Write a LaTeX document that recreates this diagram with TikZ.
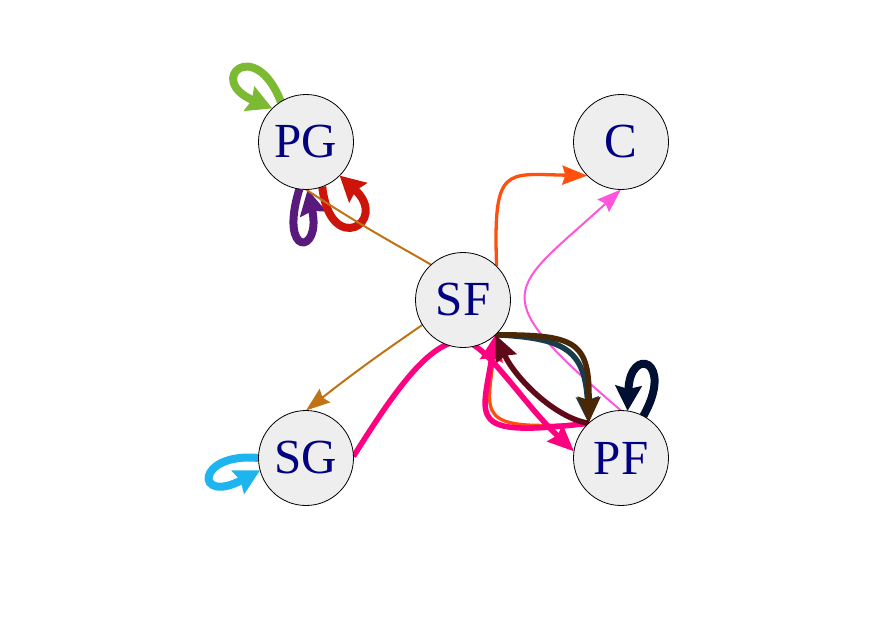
\documentclass[tikz,border=0pt]{standalone}
\usepackage{fontspec}
\setmainfont{Liberation Serif}
\usetikzlibrary{arrows.meta,backgrounds}
\definecolor{nodefill}{HTML}{EEEEEE}
\definecolor{nodetext}{HTML}{000080}
\definecolor{loopgreen}{HTML}{7CBA34}
\definecolor{looppurple}{HTML}{5A1A7D}
\definecolor{loopred}{HTML}{CD140A}
\definecolor{loopnavy}{HTML}{000F32}
\definecolor{loopblue}{HTML}{1EB4F0}
\definecolor{edgebrown}{HTML}{C07314}
\definecolor{edgeorange}{HTML}{FF500F}
\definecolor{edgepink}{HTML}{FF55DC}
\definecolor{edgemagenta}{HTML}{FF0080}
\definecolor{edgedarkbrown}{HTML}{4B2805}
\definecolor{edgeteal}{HTML}{193C4B}
\definecolor{edgemaroon}{HTML}{5F0A19}

\begin{document}
\begin{tikzpicture}[x=1pt,y=-1pt,
    vertex/.style={draw,circle,minimum size=95pt,inner sep=0pt,outer sep=0pt,fill=nodefill,line width=0.8pt,text=nodetext,font=\fontsize{49}{49}\selectfont},
    thinedge/.style={line width=2pt,>={Stealth[length=24pt,width=17pt,inset=3pt]}},
    midedge/.style={line width=3.3pt,>={Stealth[length=25pt,width=19pt,inset=3pt]}},
    thickedge/.style={line width=5.5pt,>={Stealth[length=26pt,width=22pt,inset=3pt]}},
    loopedge/.style={line width=8pt,>={Stealth[length=25pt,width=26pt,inset=3pt]}}]
    \useasboundingbox (0,0) rectangle (890,621);
    \node[vertex] at (306,142) (PG) {PG};
    \node[vertex] at (621,142) (C) {C};
    \node[vertex] at (463,300) (SF) {SF};
    \node[vertex] at (306,458) (SG) {SG};
    \node[vertex] at (621,458) (PF) {PF};
    \begin{scope}[on background layer]
    \draw[->,loopedge,loopgreen] (PG.122) .. controls (255,35) and (205,80) .. (PG.135);
    \draw[->,loopedge,looppurple] (PG.262) .. controls (278,258) and (322,255) .. (PG.272);
    \draw[->,loopedge,loopred] (PG.290) .. controls (330,258) and (390,222) .. (PG.315);
    \draw[->,loopedge,loopnavy] (PF.62) .. controls (675,360) and (630,345) .. (PF.82);
    \draw[->,loopedge,loopblue] (SG.180) .. controls (195,452) and (195,505) .. (SG.195);

    \draw[->,thinedge,edgebrown] (PG.270) .. controls (506,322) and (506,253) .. (SG.90);
    \draw[->,midedge,edgeorange] (SF.45) .. controls (493,165) and (505,174) .. (C.225);
    \draw[->,thinedge,edgepink] (PF.90) .. controls (481,291) and (509,292) .. (C.270);
    \draw[->,midedge,edgeorange] (PF.133) .. controls (472,432) and (488,415) .. (SF.313);
    \draw[->,thickedge,edgemagenta] (PF.133) .. controls (465,438) and (482,420) .. (SF.313);
    \draw[->,thickedge,edgeteal] (SF.313) .. controls (565,338) and (585,350) .. (PF.133);
    \draw[->,thickedge,edgedarkbrown] (SF.313) .. controls (575,335) and (590,340) .. (PF.133);
    \draw[->,thickedge,edgemaroon] (PF.133) .. controls (555,418) and (515,378) .. (SF.313);
    \draw[->,thickedge,edgemagenta] (SG.2) .. controls (395,390) and (430,341) .. (462,341)
      .. controls (485,341) and (520,400) .. (PF.172);
    \end{scope}
  \end{tikzpicture}
\end{document}
